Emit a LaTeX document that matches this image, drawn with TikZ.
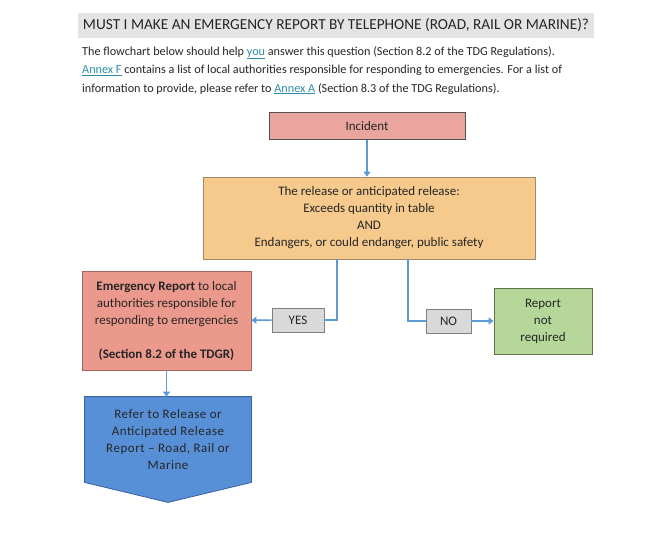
\documentclass[tikz,border=0pt]{standalone}
\usepackage{fontspec}
\setmainfont{Carlito}
\newfontfamily\referFont[LetterSpace=4]{Carlito}
\usetikzlibrary{arrows.meta,backgrounds,positioning}
\definecolor{Ink}{HTML}{262626}
\definecolor{LinkTeal}{HTML}{2E8CA8}
\definecolor{BarGray}{HTML}{E4E4E4}
\definecolor{TagGray}{HTML}{D9D9D9}
\definecolor{TagEdge}{HTML}{7F7F7F}
\definecolor{IncidentPink}{HTML}{E9A59E}
\definecolor{ReleaseTan}{HTML}{F6CA8C}
\definecolor{ReleaseEdge}{HTML}{9C8A68}
\definecolor{ReportSalmon}{HTML}{EB998C}
\definecolor{ReportEdge}{HTML}{A5655C}
\definecolor{OkGreen}{HTML}{B5D89A}
\definecolor{OkEdge}{HTML}{5E7547}
\definecolor{ReferBlue}{HTML}{5890D8}
\definecolor{ReferEdge}{HTML}{3A649C}
\definecolor{FlowBlue}{HTML}{5B9BD5}
\newcommand{\linkText}[1]{\textcolor{LinkTeal}{\underline{#1}}}
\tikzset{
  titleBar/.style={rectangle,fill=BarGray,text=Ink,minimum width=516pt,minimum height=25.5pt,
    font=\fontsize{15.3}{17}\selectfont,inner sep=0pt},
  introText/.style={text=Ink,align=left,font=\fontsize{12.2}{18.5}\selectfont,inner sep=0pt},
  flowBox/.style={rectangle,draw=Ink,thick,text=Ink,align=center,
    font=\fontsize{13}{17}\selectfont,inner sep=0pt},
  incidentBox/.style={flowBox,draw=Ink!80,fill=IncidentPink,minimum width=196pt,minimum height=27.5pt},
  releaseBox/.style={flowBox,draw=ReleaseEdge,fill=ReleaseTan,minimum width=332pt,minimum height=82pt},
  reportBox/.style={flowBox,draw=ReportEdge,fill=ReportSalmon,minimum width=169pt,minimum height=99pt},
  notRequiredBox/.style={flowBox,draw=OkEdge,fill=OkGreen,minimum width=98pt,minimum height=66pt},
  answerTag/.style={flowBox,draw=TagEdge,fill=TagGray,minimum height=24pt},
  referBox/.style={flowBox,draw=none,minimum width=166pt,minimum height=85pt,
    font=\referFont\fontsize{13}{17}\selectfont},
  referShape/.style={draw=ReferEdge,thick,fill=ReferBlue},
  flowLine/.style={draw=FlowBlue,line width=1.6pt},
  flowArrow/.style={flowLine,-{Triangle[length=5pt,width=7pt]}}
}
\begin{document}
\begin{tikzpicture}[x=1pt,y=-1pt]
  \useasboundingbox (0,0) rectangle (661,536);
  \node[titleBar] (title) at (336,25.25) {MUST I MAKE AN EMERGENCY REPORT BY TELEPHONE (ROAD, RAIL OR MARINE)?};
  \node[introText,anchor=north west] (intro) at (82,46) {The flowchart below should help \linkText{you} answer this question (Section 8.2 of the TDG Regulations).\\
    \linkText{Annex F} contains a list of local authorities responsible for responding to emergencies. For a list of\\
    information to provide, please refer to \linkText{Annex A} (Section 8.3 of the TDG Regulations).};
  \node[incidentBox] (incident) at (367,126) {Incident};
  \node[releaseBox] (release) at (369,218) {The release or anticipated release:\\Exceeds quantity in table\\AND\\Endangers, or could endanger, public safety};
  \node[reportBox] (emergency) at (166.5,320.5) {\textbf{Emergency Report} to local\\authorities responsible for\\responding to emergencies\\[17pt]\textbf{(Section 8.2 of the TDGR)}};
  \node[answerTag,minimum width=52pt] (yes) at (298,320) {YES};
  \node[answerTag,minimum width=45pt] (no) at (448.5,321) {NO};
  \node[notRequiredBox] (report) at (543,321) {Report\\not\\required};
  \node[referBox] (refer) at (168,439.5) {Refer to Release or\\Anticipated Release\\Report \textendash\ Road, Rail or\\Marine};
  \begin{scope}[on background layer]
    \fill[white] (0,0) rectangle (661,536);
    \draw[referShape] (refer.north west) -- (refer.north east) -- (refer.south east)
      -- ([yshift=-20pt]refer.south) -- (refer.south west) -- cycle;
  \end{scope}
  \draw[flowArrow] (incident.south) -- (incident.south |- release.north);
  \draw[flowLine] ([xshift=-32pt]release.south) |- (yes.east);
  \draw[flowArrow] (yes) -- (emergency);
  \draw[flowLine] ([xshift=39pt]release.south) |- (no.west);
  \draw[flowArrow] (no) -- (report);
  \draw[flowArrow] (emergency.south) -- (emergency.south |- refer.north);
\end{tikzpicture}
\end{document}
